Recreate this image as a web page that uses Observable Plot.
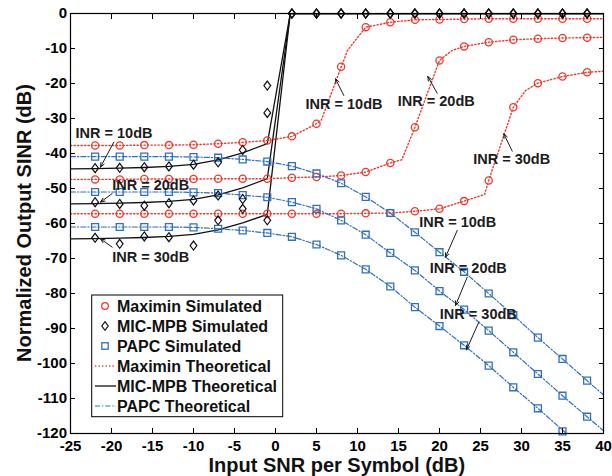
<!DOCTYPE html>
<html><head><meta charset="utf-8">
<script src="https://cdn.jsdelivr.net/npm/d3@7"></script>
<script src="https://cdn.jsdelivr.net/npm/@observablehq/plot@0.6"></script>
<style>html,body{margin:0;padding:0;background:#fff;}</style>
</head><body><div id="chart"></div>
<script>
const FONT = "'Liberation Sans', Arial, Helvetica, sans-serif";
const RED = "#f0382b", BLUE = "#2f6fc1", BLACK = "#111111", TXT = "#1c1c1c";

// ---- axes ----
const xTicks = [-25,-20,-15,-10,-5,0,5,10,15,20,25,30,35,40];
const yTicks = [-120,-110,-100,-90,-80,-70,-60,-50,-40,-30,-20,-10,0];
const xTitle = "Input SNR per Symbol (dB)";
const yTitle = "Normalized Output SINR (dB)";
const inrNames = ["10dB", "20dB", "30dB"];

// ---- simulated x positions ----
const simX = [-22,-19,-16,-13,-10,-7,-4,-1,2,5,8,11,14,17,20,23,26,29,32,35,38];

// Maximin simulated
const maxSim10 = [-37.7,-37.7,-37.6,-37.6,-37.5,-37.2,-36.8,-36.3,-35.1,-31.5,-15.2,-3.9,-2.5,-1.8,-1.7,-1.6,-1.5,-1.5,-1.5,-1.5,-1.5];
const maxSim20 = [-47.4,-47.4,-47.3,-47.3,-47.3,-47.2,-47.2,-47.2,-46.9,-46.7,-46.3,-45.3,-42.7,-32.5,-13.4,-9.4,-8.2,-7.5,-7.2,-7.0,-6.9];
const maxSim30 = [-57.2,-57.2,-57.2,-57.2,-57.2,-57.2,-57.2,-57.2,-57.2,-57.2,-57.2,-57.1,-57.0,-56.5,-55.8,-53.6,-47.7,-26.8,-19.9,-18.0,-16.8];

// MIC-MPB simulated
const micSim10 = [-44.2,-44.1,-43.9,-43.7,-43.2,-42.5,-39.0,-20.6,0,0,0,0,0,0,0,0,0,0,0,0,0];
const micSim20 = [-53.9,-54.4,-54.9,-54.2,-53.4,-52.0,-53.0,-28.4,0,0,0,0,0,0,0,0,0,0,0,0,0];
const micSim30 = [-64.1,-65.8,-63.7,-63.9,-66.3,-59.1,-55.8,-59.1,0,0,0,0,0,0,0,0,0,0,0,0,0];

// PAPC simulated
const papSim10 = [-40.9,-40.9,-40.9,-40.9,-41.0,-41.2,-41.7,-42.3,-43.6,-45.7,-48.5,-52.4,-57.0,-62.5,-68.2,-73.8,-80.0,-86.2,-92.6,-98.7,-104.9];
const papSim20 = [-51.0,-51.0,-51.0,-51.0,-51.1,-51.3,-51.9,-52.5,-53.9,-55.8,-59.1,-63.2,-68.4,-73.4,-79.3,-84.6,-90.6,-96.8,-103.0,-109.2,-115.2];
const papSim30 = [-61.0,-61.0,-61.0,-61.0,-61.1,-61.5,-62.0,-62.7,-63.8,-66.0,-69.1,-73.1,-78.0,-83.9,-89.3,-94.8,-100.6,-106.8,-112.8,-119.4,null];

// Maximin theoretical
const maxThX10 = [-25,-22,-19,-16,-13,-10,-7,-4,-1,2,5,5.6,8,8.8,11,14,17,20,23,26,29,32,35,38,40];
const maxThY10 = [-37.7,-37.7,-37.7,-37.6,-37.6,-37.5,-37.2,-36.8,-36.3,-35.1,-31.5,-30.4,-15.3,-10.5,-3.9,-2.5,-1.8,-1.7,-1.6,-1.5,-1.5,-1.5,-1.5,-1.5,-1.5];
const maxThX20 = [-25,-22,-19,-16,-13,-10,-7,-4,-1,2,5,8,11,14,15.4,17,20,21.5,23,26,29,32,35,38,40];
const maxThY20 = [-47.4,-47.4,-47.4,-47.3,-47.3,-47.3,-47.2,-47.2,-47.2,-46.9,-46.7,-46.3,-45.3,-42.7,-41.8,-32.5,-13.4,-10.6,-9.4,-8.2,-7.5,-7.2,-7.0,-6.9,-6.8];
const maxThX30 = [-25,-22,-19,-16,-13,-10,-7,-4,-1,2,5,8,11,14,17,20,23,25.5,26,29,30.5,32,35,38,40];
const maxThY30 = [-57.2,-57.2,-57.2,-57.2,-57.2,-57.2,-57.2,-57.2,-57.2,-57.2,-57.2,-57.2,-57.1,-57.0,-56.5,-55.8,-53.6,-51.7,-47.7,-26.8,-22.0,-19.9,-18.0,-16.8,-16.5];

// MIC-MPB theoretical
const micThX = [-25,-22,-19,-16,-13,-10,-7,-4,-1,1.8,40];
const micThY10 = [-44.4,-44.3,-44.2,-44.0,-43.7,-43.1,-41.8,-39.8,-37.2,0,0];
const micThY20 = [-54.4,-54.3,-54.2,-54.0,-53.7,-53.1,-51.8,-49.8,-47.2,0,0];
const micThY30 = [-64.4,-64.3,-64.2,-64.0,-63.7,-63.1,-61.8,-59.8,-57.4,0,0];

// PAPC theoretical
const papThX = [-25,-22,-19,-16,-13,-10,-7,-4,-1,2,5,8,11,14,17,20,23,26,29,32,35,38,40];
const papThY10 = [-40.9,-40.9,-40.9,-40.9,-40.9,-41.0,-41.2,-41.7,-42.3,-43.6,-45.7,-48.5,-52.4,-57.0,-62.5,-68.2,-73.8,-80.0,-86.2,-92.6,-98.7,-104.9,-109.0];
const papThY20 = [-51.0,-51.0,-51.0,-51.0,-51.0,-51.1,-51.3,-51.9,-52.5,-53.9,-55.8,-59.1,-63.2,-68.4,-73.4,-79.3,-84.6,-90.6,-96.8,-103.0,-109.2,-115.2,-119.2];
const papThY30 = [-61.0,-61.0,-61.0,-61.0,-61.0,-61.1,-61.5,-62.0,-62.7,-63.8,-66.0,-69.1,-73.1,-78.0,-83.9,-89.3,-94.8,-100.6,-106.8,-112.8,-119.0,-125.2,-129.3];

// Annotations (data coordinates): text start/baseline, arrow from -> to
const annText = ["INR = 10dB","INR = 20dB","INR = 30dB","INR = 10dB","INR = 20dB","INR = 30dB","INR = 10dB","INR = 20dB","INR = 30dB"];
const annX = [-24.39,-19.91,-19.91, 3.66,14.91,24.11, 17.52,18.82,20.04];
const annY = [-35.7,-50.37,-71.06, -27.23,-26.29,-42.94, -61.06,-74.2,-87.23];
const arrX1 = [-19.72,-19.91,-19.91, 8.33,19.72,28.87, 22.16,23.38,24.79];
const arrY1 = [-36.77,-51.43,-66.77, -23.43,-22.77,-39.34, -62.0,-75.34,-88.2];
const arrX2 = [-21.34,-21.34,-21.34, 7.32,18.57,27.84, 20.73,21.95,23.29];
const arrY2 = [-43.9,-53.91,-64.37, -18.66,-18.0,-34.37, -69.63,-83.43,-96.09];

// Legend
const legendLabels = ["Maximin Simulated","MIC-MPB Simulated","PAPC Simulated","Maximin Theoretical","MIC-MPB Theoretical","PAPC Theoretical"];

// ---- build tables ----
function pts(xs, ys, inr) { return xs.map((x, i) => ({x, y: ys[i], inr})).filter(d => d.y != null); }
const maxSim = [...pts(simX, maxSim10, 10), ...pts(simX, maxSim20, 20), ...pts(simX, maxSim30, 30)];
const micSim = [...pts(simX, micSim10, 10), ...pts(simX, micSim20, 20), ...pts(simX, micSim30, 30)];
const papSim = [...pts(simX, papSim10, 10), ...pts(simX, papSim20, 20), ...pts(simX, papSim30, 30)];
const maxTh = [...pts(maxThX10, maxThY10, 10), ...pts(maxThX20, maxThY20, 20), ...pts(maxThX30, maxThY30, 30)];
const micTh = [...pts(micThX, micThY10, 10), ...pts(micThX, micThY20, 20), ...pts(micThX, micThY30, 30)];
const papTh = [...pts(papThX, papThY10, 10), ...pts(papThX, papThY20, 20), ...pts(papThX, papThY30, 30)];
const ann = annText.map((t, i) => ({t, x: annX[i], y: annY[i], x1: arrX1[i], y1: arrY1[i], x2: arrX2[i], y2: arrY2[i]}));

const diamond = {
  draw(ctx, size) {
    const r = Math.sqrt(size / Math.PI), w = r * 0.75;
    ctx.moveTo(0, -r); ctx.lineTo(w, 0); ctx.lineTo(0, r); ctx.lineTo(-w, 0); ctx.closePath();
  }
};

const DOT = "1.3,2.2", DASHDOT = "5,2,1.3,2";
const fmt = d => String(d);

const chart = Plot.plot({
  width: 612, height: 476,
  marginLeft: 70, marginRight: 9, marginTop: 13, marginBottom: 43,
  style: {fontFamily: FONT, background: "#fff", color: "#000"},
  x: {domain: [-25, 40]},
  y: {domain: [-120, 0]},
  marks: [
    Plot.line(micTh, {x: "x", y: "y", z: "inr", stroke: BLACK, strokeWidth: 1.3, clip: true}),
    Plot.line(maxTh, {x: "x", y: "y", z: "inr", stroke: RED, strokeWidth: 1.4, strokeDasharray: DOT, clip: true}),
    Plot.line(papTh, {x: "x", y: "y", z: "inr", stroke: BLUE, strokeWidth: 1.2, strokeDasharray: DASHDOT, clip: true}),
    Plot.dot(maxSim, {x: "x", y: "y", r: 3.6, stroke: RED, strokeWidth: 1.3, fill: "none"}),
    Plot.dot(papSim, {x: "x", y: "y", symbol: "square", r: 3.9, stroke: BLUE, strokeWidth: 1.3, fill: "none"}),
    Plot.dot(micSim, {x: "x", y: "y", symbol: diamond, r: 4.5, stroke: BLACK, strokeWidth: 1.2, fill: "none"}),
    Plot.frame({stroke: "#000", strokeWidth: 1.2}),
    // inward ticks on all four sides
    Plot.axisX({anchor: "bottom", ticks: xTicks, tickSize: -5, fill: "none", label: null}),
    Plot.axisX({anchor: "top", ticks: xTicks, tickSize: -5, fill: "none", label: null}),
    Plot.axisY({anchor: "left", ticks: yTicks, tickSize: -5, fill: "none", label: null}),
    Plot.axisY({anchor: "right", ticks: yTicks, tickSize: -5, fill: "none", label: null}),
    // tick labels
    Plot.axisX({anchor: "bottom", ticks: xTicks, tickSize: 0, tickPadding: 7, tickFormat: fmt, label: null,
      fontSize: 15, fontWeight: "bold", fill: "#000"}),
    Plot.axisY({anchor: "left", ticks: yTicks, tickSize: 0, tickPadding: 3.5, tickFormat: fmt, label: null,
      fontSize: 15, fontWeight: "bold", fill: "#000"}),
    // annotations
    Plot.arrow(ann, {x1: "x1", y1: "y1", x2: "x2", y2: "y2", stroke: TXT, strokeWidth: 1, headLength: 7, headAngle: 45}),
    Plot.text(ann, {x: "x", y: "y", text: "t", textAnchor: "start", lineAnchor: "bottom",
      fontSize: 14.5, fontWeight: "bold", fill: TXT})
  ]
});

document.getElementById("chart").appendChild(chart);

// ---- titles and legend ----
const svg = d3.select(chart);
svg.append("text").attr("x", 336.8).attr("y", 471.5).attr("text-anchor", "middle")
  .attr("font-family", FONT).attr("font-size", 20).attr("font-weight", "bold").attr("fill", "#111").text(xTitle);
svg.append("text").attr("transform", "translate(31,223) rotate(-90)").attr("text-anchor", "middle")
  .attr("font-family", FONT).attr("font-size", 20).attr("font-weight", "bold").attr("fill", "#111").text(yTitle);

const lg = svg.append("g").attr("text-anchor", "start");
lg.append("rect").attr("x", 91.7).attr("y", 295).attr("width", 191).attr("height", 121.7)
  .attr("fill", "#fff").attr("stroke", "#000").attr("stroke-width", 1);
const rowY = i => 306 + i * 20;
const sx = 105;
// circle
lg.append("circle").attr("cx", sx).attr("cy", rowY(0)).attr("r", 3.3).attr("fill", "none").attr("stroke", RED).attr("stroke-width", 1.3);
// diamond
lg.append("path").attr("d", `M${sx},${rowY(1)-4.3}L${sx+3.2},${rowY(1)}L${sx},${rowY(1)+4.3}L${sx-3.2},${rowY(1)}Z`)
  .attr("fill", "none").attr("stroke", BLACK).attr("stroke-width", 1.2);
// square
lg.append("rect").attr("x", sx - 3.2).attr("y", rowY(2) - 3.2).attr("width", 6.4).attr("height", 6.4)
  .attr("fill", "none").attr("stroke", BLUE).attr("stroke-width", 1.3);
// lines
const lineStyles = [[RED, DOT, 1.4], [BLACK, null, 1.3], [BLUE, DASHDOT, 1.2]];
lineStyles.forEach(([c, dash, w], k) => {
  const l = lg.append("line").attr("x1", 95).attr("x2", 116).attr("y1", rowY(3 + k)).attr("y2", rowY(3 + k))
    .attr("stroke", c).attr("stroke-width", w);
  if (dash) l.attr("stroke-dasharray", dash);
});
legendLabels.forEach((t, i) => {
  lg.append("text").attr("x", 117).attr("y", rowY(i) + 5.6).attr("text-anchor", "start")
    .attr("font-family", FONT).attr("font-size", 16)
    .attr("font-weight", "bold").attr("fill", "#111").text(t);
});
</script>
</body></html>
